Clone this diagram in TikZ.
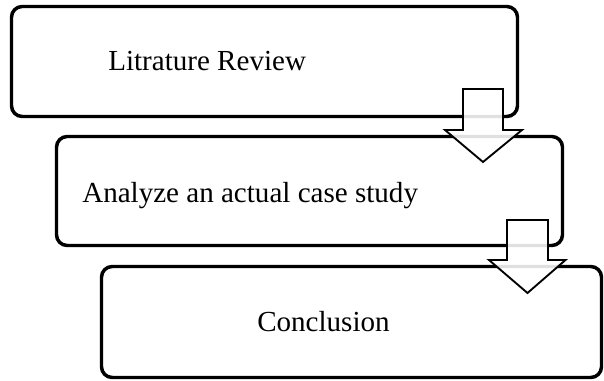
\documentclass[tikz,border=0pt]{standalone}
\usepackage{fontspec}
\setmainfont{Liberation Serif}
\begin{document}
\begin{tikzpicture}[x=0.75pt,y=-0.75pt,
  stagebox/.style={draw=black, line width=2.6pt, rounded corners=8pt, fill=white, inner sep=0pt},
  stagetext/.style={anchor=base west, inner sep=0pt, font=\fontsize{21.8pt}{26pt}\selectfont},
  blockarrow/.style={draw=black, line width=1.4pt, fill=white, fill opacity=0.88, line join=miter}]
\useasboundingbox (0,0) rectangle (604,381);
\node[stagebox, minimum width=379.5pt, minimum height=82.5pt] (b1) at (264.5,61.5) {};
\node[stagebox, minimum width=379.5pt, minimum height=81.75pt] (b2) at (309.5,191) {};
\node[stagebox, minimum width=375pt, minimum height=83.25pt] (b3) at (351.5,322) {};
\node[stagetext] (t1) at (108,71) {Litrature Review};
\node[stagetext] (t2) at (82,203) {Analyze an actual case study};
\node[stagetext] (t3) at (257,332) {Conclusion};
% block arrows
\coordinate (a1) at (483,89);
\coordinate (a2) at (527.5,220);
\draw[blockarrow] (a1) ++(-20,0) -- ++(40,0) -- ++(0,41) -- ++(19,0) -- (483,162) -- (445,130) -- (463,130) -- cycle;
\draw[blockarrow] (a2) ++(-20.5,0) -- ++(41,0) -- ++(0,40) -- ++(17.5,0) -- (527.5,293) -- (489,260) -- (507,260) -- cycle;
\end{tikzpicture}
\end{document}
